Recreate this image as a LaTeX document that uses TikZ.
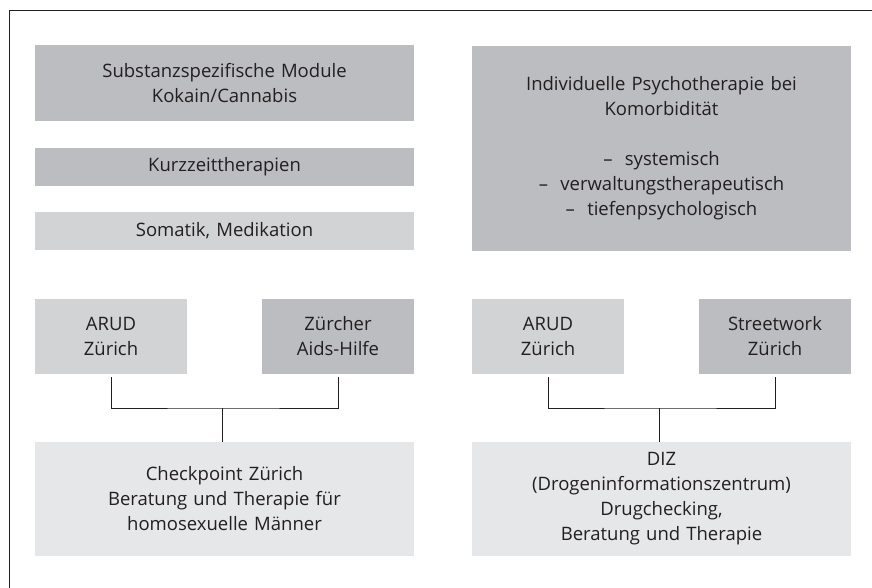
\documentclass[tikz,border=0pt]{standalone}
\usepackage{fontspec}
\setmainfont{Open Sans}
\definecolor{gdark}{HTML}{BCBDC0}
\definecolor{gmid}{HTML}{D2D3D5}
\definecolor{glight}{HTML}{E6E7E8}
\definecolor{ink}{HTML}{231F20}
\begin{document}
\begin{tikzpicture}[x=1pt,y=-1pt,
  box/.style={inner sep=0pt, align=center, text=ink,
    font=\fontsize{18.5}{25}\selectfont},
  wide/.style={box, minimum width=379pt, text width=370pt},
  small/.style={box, minimum width=152pt, minimum height=75pt, text width=145pt},
  conn/.style={draw=ink, line width=0.9pt}]
\useasboundingbox (0,0) rectangle (872,588);
\draw[ink, line width=1.4pt] (9.5,588) -- (9.5,10.5) -- (872,10.5);

\node[wide, fill=gdark, minimum height=76pt] (subst) at (224.5,83) {Substanzspezifische Module\\Kokain/Cannabis};
\node[wide, fill=gdark, minimum height=38pt] (kurz) at (224.5,167) {Kurzzeittherapien};
\node[wide, fill=gmid, minimum height=38pt] (soma) at (224.5,231) {Somatik, Medikation};
\node[wide, fill=gdark, minimum height=205pt] (indiv) at (661.5,148.5) {Individuelle Psychotherapie bei\\Komorbidität\\[25pt]–\ \ systemisch\\–\ \ verwaltungstherapeutisch\\–\ \ tiefenpsychologisch};

\node[small, fill=gmid] (arudl) at (111,336.5) {ARUD\\Zürich};
\node[small, fill=gdark] (zah) at (338,336.5) {Zürcher\\Aids-Hilfe};
\node[wide, fill=glight, minimum height=114pt] (check) at (224.5,499) {Checkpoint Zürich\\Beratung und Therapie für\\homosexuelle Männer};

\node[small, fill=gmid] (arudr) at (548,336.5) {ARUD\\Zürich};
\node[small, fill=gdark] (street) at (775,336.5) {Streetwork\\Zürich};
\node[wide, fill=glight, minimum height=114pt] (diz) at (661.5,499) {DIZ\\(Drogeninformationszentrum)\\Drugchecking,\\Beratung und Therapie};

\coordinate (jl) at (222,408);
\coordinate (jr) at (659,408);
\draw[conn] ([yshift=-3pt]arudl.south) |- (jl) -| ([yshift=-3pt]zah.south);
\draw[conn] (jl) -- (jl |- check.north);
\draw[conn] ([yshift=-3pt]arudr.south) |- (jr) -| ([yshift=-3pt]street.south);
\draw[conn] (jr) -- (jr |- diz.north);
\end{tikzpicture}
\end{document}
